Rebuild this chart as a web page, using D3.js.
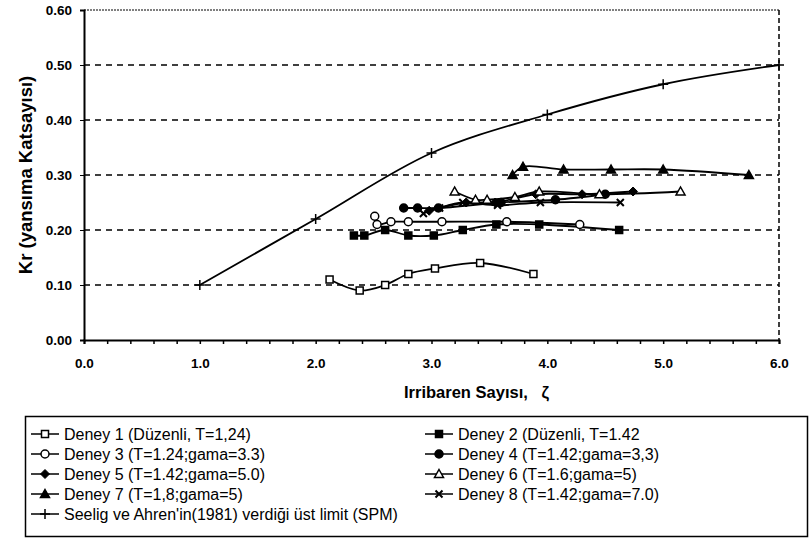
<!DOCTYPE html>
<html>
<head>
<meta charset="utf-8">
<script src="https://d3js.org/d3.v7.min.js"></script>
<style>
  html, body { margin: 0; padding: 0; background: #fff; }
  svg { font-family: "Liberation Sans", Arial, sans-serif; }
</style>
</head>
<body>
<svg id="chart" width="811" height="544"></svg>
<script>
// data (x = Irribaren number, y = Kr)
var deney1 = [[2.12,0.11],[2.38,0.09],[2.60,0.10],[2.80,0.12],[3.03,0.13],[3.42,0.14],[3.88,0.12]];
var deney2 = [[2.33,0.19],[2.42,0.19],[2.60,0.20],[2.80,0.19],[3.02,0.19],[3.27,0.20],[3.56,0.21],[3.93,0.21],[4.62,0.20]];
var deney3 = [[2.51,0.225],[2.53,0.21],[2.65,0.215],[2.80,0.215],[3.09,0.215],[3.65,0.215],[4.28,0.21]];
var deney4 = [[2.76,0.24],[2.88,0.24],[3.06,0.24],[3.60,0.25],[4.07,0.255],[4.50,0.265]];
var deney5 = [[2.98,0.235],[3.30,0.25],[3.55,0.25],[3.90,0.265],[4.30,0.265],[4.74,0.27]];
var deney6 = [[3.20,0.27],[3.38,0.255],[3.48,0.255],[3.72,0.26],[3.93,0.27],[4.45,0.265],[5.15,0.27]];
var deney7 = [[3.70,0.30],[3.79,0.315],[4.14,0.31],[4.55,0.31],[5.00,0.31],[5.74,0.30]];
var deney8 = [[2.93,0.23],[3.07,0.24],[3.27,0.25],[3.57,0.245],[3.94,0.25],[4.63,0.25]];
var seelig = [[1.0,0.10],[2.0,0.22],[3.0,0.34],[4.0,0.41],[5.0,0.465],[6.0,0.50]];

var labels = [
  "Deney 1 (Düzenli, T=1,24)", "Deney 2 (Düzenli, T=1.42",
  "Deney 3 (T=1.24;gama=3.3)", "Deney 4 (T=1.42;gama=3,3)",
  "Deney 5 (T=1.42;gama=5.0)", "Deney 6 (T=1.6;gama=5)",
  "Deney 7 (T=1,8;gama=5)", "Deney 8 (T=1.42;gama=7.0)",
  "Seelig ve Ahren'in(1981) verdiği üst limit (SPM)"
];
var markers = ["sq", "sqf", "ci", "cif", "dia", "tri", "trif", "x", "plus"];
var xTicks = [0, 1, 2, 3, 4, 5, 6];
var yTicks = [0, 0.1, 0.2, 0.3, 0.4, 0.5, 0.6];

var series = [deney1, deney2, deney3, deney4, deney5, deney6, deney7, deney8, seelig];

var svg = d3.select("#chart");
var x = d3.scaleLinear().domain([0, 6]).range([84, 779]);
var y = d3.scaleLinear().domain([0, 0.6]).range([340, 10]);

// grid lines
svg.append("g").selectAll("line")
  .data(yTicks.slice(1))
  .join("line")
  .attr("x1", x(0)).attr("x2", x(6))
  .attr("y1", d => y(d)).attr("y2", d => y(d))
  .attr("stroke", "#000")
  .attr("stroke-width", d => d === 0.6 ? 1 : 1.3)
  .attr("stroke-dasharray", d => d === 0.6 ? "2,1" : "6,5");

// right border
svg.append("line")
  .attr("x1", x(6)).attr("x2", x(6))
  .attr("y1", y(0.6)).attr("y2", y(0))
  .attr("stroke", "#000").attr("stroke-width", 1.5)
  .attr("stroke-dasharray", "5,3");

// axes
var xAxis = svg.append("g")
  .attr("transform", "translate(0," + y(0) + ")")
  .call(d3.axisBottom(x).tickValues(d3.range(0, 6.01, 0.2)).tickSize(4)
    .tickFormat(d => Math.abs(d - Math.round(d)) < 1e-6 ? d3.format(".1f")(d) : ""));
xAxis.select(".domain").attr("stroke-width", 2);
xAxis.selectAll(".tick line").attr("stroke-width", 1.5);
xAxis.selectAll(".tick text").attr("y", 28).attr("dy", 0);

var yAxis = svg.append("g")
  .attr("transform", "translate(" + x(0) + ",0)")
  .call(d3.axisLeft(y).tickValues(yTicks).tickSize(4).tickFormat(d3.format(".2f")));
yAxis.select(".domain").attr("stroke-width", 2);
yAxis.selectAll(".tick text").attr("x", -12);

svg.selectAll(".tick text")
  .style("font-family", "'Liberation Sans', Arial, sans-serif")
  .style("font-weight", "bold")
  .style("font-size", "13.5px");

// axis titles
svg.append("text")
  .attr("x", 404).attr("y", 398)
  .style("font-weight", "bold").style("font-size", "16.5px")
  .style("white-space", "pre")
  .text("Irribaren Sayısı,   ζ");

svg.append("text")
  .attr("transform", "translate(32," + y(0.3) + ") rotate(-90)")
  .attr("text-anchor", "middle")
  .style("font-weight", "bold").style("font-size", "18.5px")
  .text("Kr (yansıma Katsayısı)");

// marker drawing
function drawMarker(g, type, cx, cy) {
  var s = 3.5;
  if (type === "sq" || type === "sqf") {
    g.append("rect").attr("x", cx - s).attr("y", cy - s).attr("width", 2 * s).attr("height", 2 * s)
      .attr("fill", type === "sqf" ? "#000" : "#fff").attr("stroke", "#000").attr("stroke-width", 1.5);
  } else if (type === "ci" || type === "cif") {
    g.append("circle").attr("cx", cx).attr("cy", cy).attr("r", 4)
      .attr("fill", type === "cif" ? "#000" : "#fff").attr("stroke", "#000").attr("stroke-width", 1.5);
  } else if (type === "dia") {
    g.append("path")
      .attr("d", "M0,-4.5L4.5,0L0,4.5L-4.5,0Z")
      .attr("transform", "translate(" + cx + "," + cy + ")")
      .attr("fill", "#000").attr("stroke", "#000");
  } else if (type === "tri" || type === "trif") {
    g.append("path").attr("d", "M0,-4.5L4.5,3.5L-4.5,3.5Z")
      .attr("transform", "translate(" + cx + "," + cy + ")")
      .attr("fill", type === "trif" ? "#000" : "#fff").attr("stroke", "#000").attr("stroke-width", 1.5);
  } else if (type === "x") {
    g.append("path").attr("d", "M-3.5,-3.5L3.5,3.5M3.5,-3.5L-3.5,3.5")
      .attr("transform", "translate(" + cx + "," + cy + ")")
      .attr("fill", "none").attr("stroke", "#000").attr("stroke-width", 2);
  } else if (type === "plus") {
    g.append("path").attr("d", "M-5,0L5,0M0,-5L0,5")
      .attr("transform", "translate(" + cx + "," + cy + ")")
      .attr("fill", "none").attr("stroke", "#000").attr("stroke-width", 1.5);
  }
}

var line = d3.line()
  .x(d => x(d[0])).y(d => y(d[1]))
  .curve(d3.curveCatmullRom.alpha(0.5));

var plot = svg.append("g");
series.forEach(function (data, i) {
  plot.append("path").datum(data)
    .attr("d", line)
    .attr("fill", "none").attr("stroke", "#000").attr("stroke-width", 1.8);
});
series.forEach(function (data, i) {
  var g = plot.append("g");
  data.forEach(function (d) { drawMarker(g, markers[i], x(d[0]), y(d[1])); });
});

// legend
var legend = svg.append("g");
legend.append("rect")
  .attr("x", 25.5).attr("y", 416.5).attr("width", 782).attr("height", 120)
  .attr("fill", "#fff").attr("stroke", "#000").attr("stroke-width", 1.5);

labels.forEach(function (lab, i) {
  var col = i === 8 ? 0 : i % 2;
  var row = Math.floor(i / 2);
  var lx = col === 0 ? 31 : 425;
  var ly = 434 + row * 20;
  legend.append("line").attr("x1", lx).attr("x2", lx + 28).attr("y1", ly).attr("y2", ly)
    .attr("stroke", "#000").attr("stroke-width", 1.5);
  drawMarker(legend, markers[i], lx + 14, ly);
  legend.append("text").attr("x", lx + 33).attr("y", ly).attr("dy", "0.36em")
    .style("font-size", "16px")
    .text(lab);
});
</script>
</body>
</html>
